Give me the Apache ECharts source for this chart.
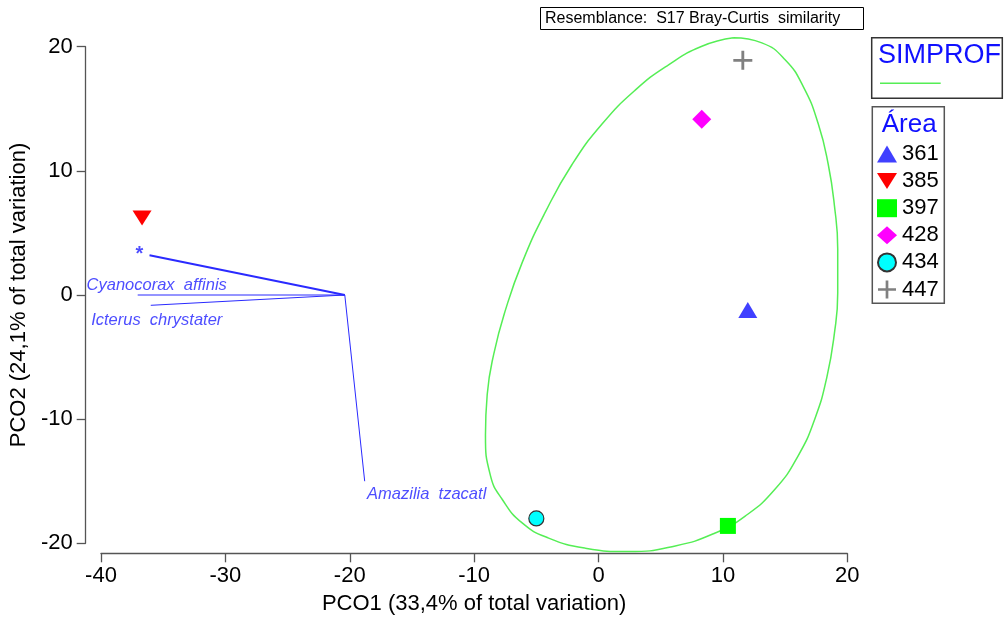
<!DOCTYPE html>
<html><head><meta charset="utf-8">
<script src="https://cdn.jsdelivr.net/npm/echarts/dist/echarts.min.js"></script>
<style>html,body{margin:0;padding:0;background:#fff}#c{width:1006px;height:622px}</style>
</head><body><div id="c"></div>
<script>
// ---- data ----
const areaNames = ['361', '385', '397', '428', '434', '447'];
const pco1 = [12.0, -36.7, 10.4, 8.3, -5.0, 11.6];
const pco2 = [-1.2, 6.2, -18.6, 14.15, -18.0, 18.9];

const vectorNames = ['*', 'Cyanocorax  affinis', 'Icterus  chrystater', 'Amazilia  tzacatl'];
const vectorOrigin = [-20.4, 0];
const vectorEndX = [-36.1, -37.05, -36.0, -18.8];
const vectorEndY = [3.2, 0.0, -0.83, -15.0];

const simprofX = [10.85, 13.13, 15.0, 16.47, 17.67, 18.47, 18.96, 19.23, 19.23, 18.96, 18.35, 17.41, 16.07, 14.2, 11.79, 9.38, 6.17, 2.42, -1.06, -4.01, -6.14, -7.75, -8.69, -9.09, -8.95, -8.42, -7.48, -6.14, -4.27, -2.13, 0.28, 2.95, 5.63, 8.31, 10.85];
const simprofY = [20.72, 20.31, 18.95, 16.77, 13.77, 10.51, 7.24, 3.71, 0.16, -3.11, -6.65, -9.92, -12.91, -15.63, -17.81, -19.17, -20.21, -20.67, -20.39, -19.58, -18.36, -16.45, -14.55, -11.28, -8.01, -4.74, -1.2, 2.61, 6.69, 10.51, 13.77, 16.5, 18.54, 20.04, 20.72];

const xMin = -40, xMax = 20, xStep = 10;
const yMin = -20, yMax = 20, yStep = 10;
const xTitle = 'PCO1 (33,4% of total variation)';
const yTitle = 'PCO2 (24,1% of total variation)';
const resemblanceText = 'Resemblance:  S17 Bray-Curtis  similarity';

// ---- styles ----
const FONT = "'Liberation Sans', Arial, sans-serif";
const areaStyles = [
  {symbol: 'path://M10,0 L20,17 L0,17 Z', size: [19, 16], color: '#4040ff'},
  {symbol: 'path://M0,0 L20,0 L10,16 Z', size: [19, 15], color: '#ff0000'},
  {symbol: 'rect', size: 16, color: '#00ff00'},
  {symbol: 'diamond', size: 19, color: '#ff00ff'},
  {symbol: 'circle', size: 15, color: '#00ffff', border: '#333333'},
  {symbol: 'path://M8.5,0 H11.5 V8.5 H20 V11.5 H11.5 V20 H8.5 V11.5 H0 V8.5 H8.5 Z', size: 19, color: '#808080'}
];
const vectorLabelOffsets = [[-10, -1], [19, -10], [6, 15], [62, 13]];
const vectorLabelFont = [{fontSize: 20, fontStyle: 'normal', fontWeight: 'bold'}, {fontSize: 16.5}, {fontSize: 16.5}, {fontSize: 16.5}];
const axisColor = '#555555';

const series = [];
series.push({
  name: 'SIMPROF', type: 'line', silent: true, clip: false, smooth: 0.5, symbol: 'none',
  data: simprofX.map((x, i) => [x, simprofY[i]]),
  lineStyle: {color: '#55ee55', width: 1.5}, z: 1
});
vectorNames.forEach((n, i) => {
  series.push({
    name: 'vec' + i, type: 'line', silent: true, symbol: 'none', clip: false,
    data: [vectorOrigin, [vectorEndX[i], vectorEndY[i]]],
    lineStyle: {color: '#2a2aff', width: i === 0 ? 2 : 1}, z: 2
  });
});
series.push({
  name: 'vecLabels', type: 'scatter', silent: true, clip: false, symbolSize: 1,
  itemStyle: {color: 'transparent'},
  data: vectorNames.map((n, i) => ({
    value: [vectorEndX[i], vectorEndY[i]], name: n,
    label: Object.assign({show: true, position: 'inside', offset: vectorLabelOffsets[i],
      formatter: n, color: '#2020ff', fontFamily: FONT, fontStyle: 'italic'}, vectorLabelFont[i])
  })), z: 3
});
areaNames.forEach((a, i) => {
  const s = areaStyles[i];
  series.push({
    name: a, type: 'scatter', clip: false,
    symbol: s.symbol, symbolSize: s.size,
    itemStyle: {color: s.color, borderColor: s.border || s.color, borderWidth: s.border ? 1.2 : 0, opacity: 1},
    data: [[pco1[i], pco2[i]]], z: 5
  });
});

const chart = echarts.init(document.getElementById('c'), null, {renderer: 'canvas'});
chart.setOption({
  animation: false,
  backgroundColor: '#ffffff',
  textStyle: {fontFamily: FONT},
  grid: {left: 100, top: 46.7, width: 747.3, height: 496.6, containLabel: false},
  xAxis: {
    type: 'value', min: xMin, max: xMax, interval: xStep, offset: 10,
    axisLine: {show: true, onZero: false, lineStyle: {color: axisColor, width: 1.3}},
    axisTick: {show: true, length: 9, lineStyle: {color: axisColor, width: 1.3}},
    axisLabel: {fontSize: 22, color: '#000', margin: 12, fontFamily: FONT},
    splitLine: {show: false},
    name: xTitle, nameLocation: 'middle', nameGap: 40,
    nameTextStyle: {fontSize: 22, color: '#000', fontFamily: FONT}
  },
  yAxis: {
    type: 'value', min: yMin, max: yMax, interval: yStep, offset: 15.3,
    axisLine: {show: true, onZero: false, lineStyle: {color: axisColor, width: 1.3}},
    axisTick: {show: true, length: 9, lineStyle: {color: axisColor, width: 1.3}},
    axisLabel: {fontSize: 22, color: '#000', margin: 13, fontFamily: FONT},
    splitLine: {show: false},
    name: yTitle, nameLocation: 'middle', nameGap: 44,
    nameTextStyle: {fontSize: 22, color: '#000', fontFamily: FONT}
  },
  legend: {
    data: areaNames, orient: 'vertical', left: 877, top: 143, padding: 0,
    itemGap: 5.1, itemWidth: 20, itemHeight: 18, selectedMode: false,
    textStyle: {fontSize: 22, color: '#000', fontFamily: FONT, padding: [0, 0, 0, 0]}
  },
  graphic: [
    {type: 'rect', shape: {x: 540.5, y: 7.5, width: 323, height: 22}, style: {fill: '#fff', stroke: '#000', lineWidth: 1}},
    {type: 'text', x: 545, y: 19, style: {text: resemblanceText, fill: '#000', font: "16px 'Liberation Sans', Arial, sans-serif", verticalAlign: 'middle'}},
    {type: 'rect', shape: {x: 871.7, y: 37.7, width: 130.6, height: 60.6}, style: {fill: 'none', stroke: '#333', lineWidth: 1.5}},
    {type: 'text', x: 878, y: 56, style: {text: 'SIMPROF', fill: '#1010ff', font: "27px 'Liberation Sans', Arial, sans-serif", verticalAlign: 'middle'}},
    {type: 'line', shape: {x1: 880, y1: 83.3, x2: 940.7, y2: 83.3}, style: {stroke: '#55ee55', lineWidth: 1.5}},
    {type: 'rect', shape: {x: 872.3, y: 106.7, width: 72, height: 196.6}, style: {fill: 'none', stroke: '#555', lineWidth: 1.5}},
    {type: 'text', x: 881.7, y: 125, style: {text: 'Área', fill: '#1010ff', font: "26px 'Liberation Sans', Arial, sans-serif", verticalAlign: 'middle'}}
  ],
  series: series
});
</script></body></html>
